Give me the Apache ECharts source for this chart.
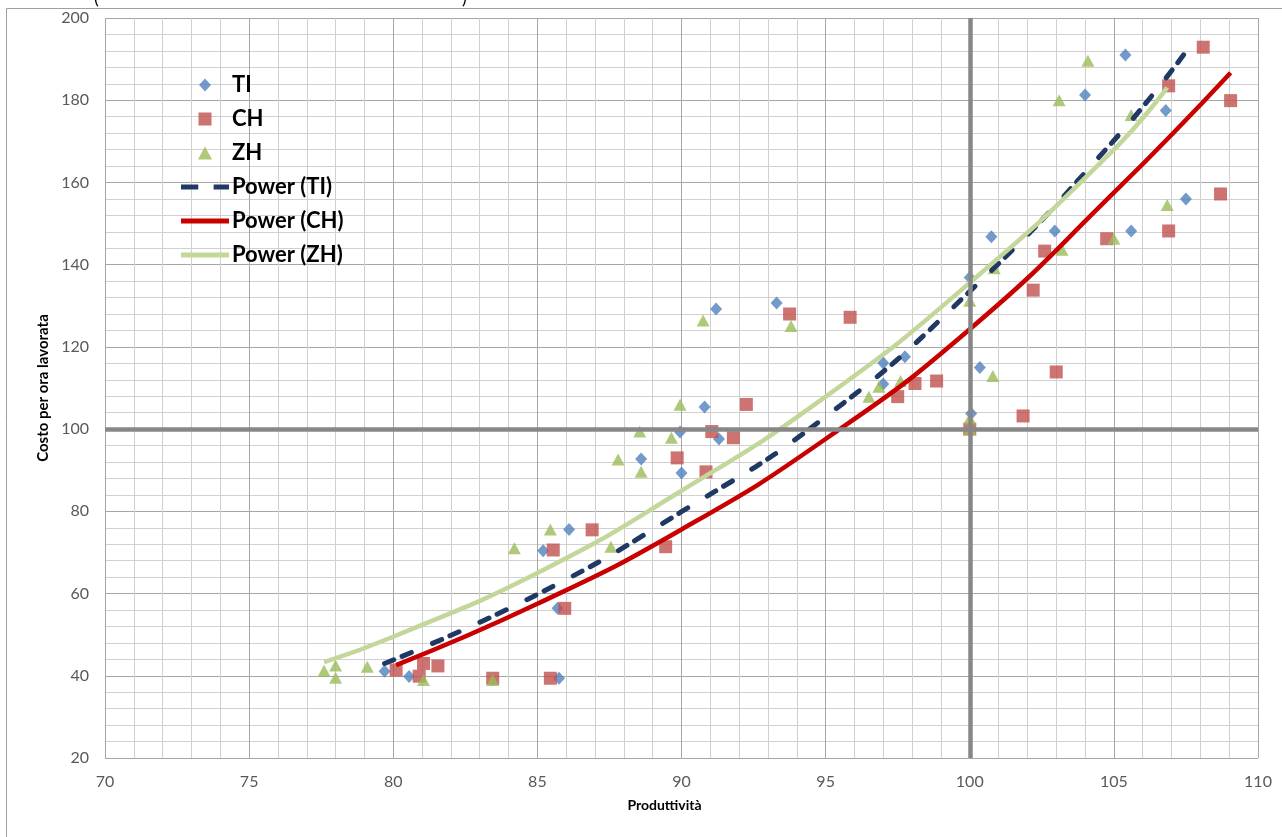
<!DOCTYPE html>
<html>
<head>
<meta charset="utf-8">
<title>Produttività e costo per ora lavorata</title>
<style>
  html, body { margin: 0; padding: 0; background: #fff; }
  #chart { width: 1282px; height: 837px; }
</style>
<script src="https://cdn.jsdelivr.net/npm/echarts@6/dist/echarts.min.js"></script>
</head>
<body>
<div id="chart"></div>
<script>
// Observations per canton: [produttività, costo per ora lavorata]
const tiPoints = [
  [79.7, 41.1], [80.55, 39.8], [85.2, 70.4], [85.7, 56.4], [85.75, 39.4],
  [86.1, 75.6], [88.6, 92.7], [89.95, 99.3], [90.0, 89.3], [90.8, 105.4],
  [91.3, 97.6], [91.2, 129.2], [93.3, 130.7], [97.0, 116.1], [97.0, 111.0],
  [97.75, 117.6], [100.0, 136.9], [100.05, 103.8], [100.35, 115.0], [100.75, 146.8],
  [102.95, 148.2], [104.0, 181.3], [105.4, 191.0], [105.6, 148.2], [106.8, 177.5],
  [107.5, 156.0]
];
const chPoints = [
  [80.1, 41.4], [80.9, 39.9], [81.05, 43.0], [81.55, 42.4], [83.45, 39.4],
  [85.45, 39.4], [85.55, 70.6], [85.95, 56.4], [86.9, 75.5], [89.45, 71.4],
  [89.85, 93.0], [90.85, 89.6], [91.05, 99.4], [91.8, 97.9], [92.25, 106.0],
  [93.75, 128.0], [95.85, 127.2], [97.5, 107.9], [98.1, 111.1], [98.85, 111.7],
  [100.0, 100.0], [101.85, 103.2], [102.2, 133.8], [102.6, 143.3], [103.0, 113.9],
  [104.75, 146.3], [106.9, 148.2], [106.9, 183.5], [108.7, 157.2], [108.1, 192.9],
  [109.05, 179.9]
];
const zhPoints = [
  [77.6, 41.2], [78.0, 42.5], [78.0, 39.5], [79.1, 42.2], [81.05, 39.0],
  [83.45, 39.0], [84.2, 71.0], [85.45, 75.6], [87.55, 71.4], [87.8, 92.6],
  [88.55, 99.4], [88.6, 89.6], [89.65, 97.9], [89.95, 105.9], [90.75, 126.4],
  [93.8, 125.1], [96.5, 107.9], [96.85, 110.3], [97.6, 111.7], [100.0, 100.0],
  [100.0, 102.6], [100.0, 131.2], [100.85, 139.1], [100.8, 112.9], [103.1, 180.0],
  [103.2, 143.6], [104.1, 189.6], [105.0, 146.3], [105.6, 176.4], [106.85, 154.5]
];

// Power trend lines, sampled along each curve
const tiTrend = [[79.7, 43.0], [85, 59.8], [90, 79.9], [95, 103.0], [100, 133.5], [105, 170.2], [107.5, 191.8]];
const chTrend = [[80.1, 42.6], [85, 57.5], [90, 75.6], [95, 97.6], [100, 124.3], [105, 157.5], [109.05, 186.7]];
const zhTrend = [[77.6, 43.3], [80, 49.5], [85, 65.0], [90, 85.0], [95, 107.9], [100, 135.6], [105, 168.0], [106.85, 183.1]];

// Reference lines where the axes cross
const crossX = 100;
const crossY = 100;

const FONT = 'Lato, "Open Sans", sans-serif';

// Legend glyphs (kept at their own aspect ratio inside the legend box)
const ICON_DIAMOND = 'path://M6,0L12,6.5L6,13L0,6.5Z';
const ICON_SQUARE = 'path://M0,0H12V12H0Z';
const ICON_TRIANGLE = 'path://M6.5,0L13,12H0Z';
const ICON_DASHED = 'path://M0,0H18V5H0Z M34,0H50V5H34Z';
const ICON_SOLID = 'path://M0,0H50V5H0Z';

const chart = echarts.init(document.getElementById('chart'), null, { renderer: 'canvas' });

chart.setOption({
  animation: false,
  backgroundColor: '#ffffff',
  grid: { left: 105, right: 24, top: 18, bottom: 79 },
  legend: {
    data: [
      { name: 'TI', icon: ICON_DIAMOND },
      { name: 'CH', icon: ICON_SQUARE },
      { name: 'ZH', icon: ICON_TRIANGLE },
      { name: 'Power (TI)', icon: ICON_DASHED },
      { name: 'Power (CH)', icon: ICON_SOLID },
      { name: 'Power (ZH)', icon: ICON_SOLID }
    ],
    orient: 'vertical',
    left: 181,
    top: 72,
    padding: 0,
    itemWidth: 48,
    itemHeight: 13,
    itemGap: 8,
    symbolKeepAspect: true,
    textStyle: { fontFamily: FONT, fontWeight: 'bold', fontSize: 22, lineHeight: 26, color: '#000', padding: [0, 0, 0, -2] },
    selectedMode: false
  },
  graphic: [
    {
      type: 'rect',
      silent: true,
      z: -10,
      shape: { x: 6.5, y: 8.5, width: 1300, height: 900 },
      style: { fill: 'none', stroke: '#a0a0a0', lineWidth: 1 }
    },
    {
      type: 'text',
      silent: true,
      style: { text: '(', x: 94, y: 7, font: '18px ' + FONT, fill: '#000', verticalAlign: 'bottom' }
    },
    {
      type: 'text',
      silent: true,
      style: { text: ')', x: 462, y: 7, font: '18px ' + FONT, fill: '#000', verticalAlign: 'bottom' }
    }
  ],
  xAxis: {
    type: 'value',
    min: 70,
    max: 110,
    interval: 5,
    name: 'Produttività',
    nameLocation: 'middle',
    nameGap: 40,
    nameTextStyle: { fontFamily: FONT, fontWeight: 'bold', fontSize: 14, color: '#000', padding: [0, 34, 0, 0] },
    axisLine: { show: false },
    axisTick: { show: false },
    axisLabel: { fontFamily: FONT, fontSize: 16, color: '#595959', margin: 16 },
    splitLine: { show: true, lineStyle: { color: '#a6a6a6', width: 1 } },
    minorTick: { show: false, splitNumber: 5 },
    minorSplitLine: { show: true, lineStyle: { color: '#d0d0d0', width: 1 } }
  },
  yAxis: {
    type: 'value',
    min: 20,
    max: 200,
    interval: 20,
    name: 'Costo per ora lavorata',
    nameLocation: 'middle',
    nameGap: 48,
    nameTextStyle: { fontFamily: FONT, fontWeight: 'bold', fontSize: 15, color: '#000', padding: [0, 0, 0, 0] },
    axisLine: { show: false },
    axisTick: { show: false },
    axisLabel: { fontFamily: FONT, fontSize: 16, color: '#595959', margin: 16 },
    splitLine: { show: true, lineStyle: { color: '#a6a6a6', width: 1 } },
    minorTick: { show: false, splitNumber: 5 },
    minorSplitLine: { show: true, lineStyle: { color: '#d0d0d0', width: 1 } }
  },
  series: [
    {
      name: 'axes',
      type: 'line',
      data: [],
      z: 1,
      silent: true,
      markLine: {
        silent: true,
        symbol: ['none', 'none'],
        label: { show: false },
        lineStyle: { color: '#878787', width: 4.5, type: 'solid' },
        emphasis: { disabled: true },
        data: [{ xAxis: crossX }, { yAxis: crossY }]
      }
    },
    {
      name: 'TI', type: 'scatter', data: tiPoints, z: 2,
      symbol: 'diamond', symbolSize: [12, 13],
      itemStyle: { color: '#4f81bd' }
    },
    {
      name: 'CH', type: 'scatter', data: chPoints, z: 2,
      symbol: 'rect', symbolSize: 13,
      itemStyle: { color: '#c0504d' }
    },
    {
      name: 'ZH', type: 'scatter', data: zhPoints, z: 2,
      symbol: 'triangle', symbolSize: [13, 12],
      itemStyle: { color: '#9bbb59' }
    },
    {
      name: 'Power (TI)', type: 'line', data: tiTrend, z: 3,
      smooth: 0.5, showSymbol: false, symbol: 'none',
      itemStyle: { color: '#1f3864' },
      lineStyle: { color: '#1f3864', width: 5, type: [10, 9, 10, 23], cap: 'round' }
    },
    {
      name: 'Power (CH)', type: 'line', data: chTrend, z: 3,
      smooth: 0.5, showSymbol: false, symbol: 'none',
      itemStyle: { color: '#c80000' },
      lineStyle: { color: '#c80000', width: 4.5, type: 'solid' }
    },
    {
      name: 'Power (ZH)', type: 'line', data: zhTrend, z: 3,
      smooth: 0.5, showSymbol: false, symbol: 'none',
      itemStyle: { color: '#c4d79b' },
      lineStyle: { color: '#c4d79b', width: 4.5, type: 'solid' }
    }
  ]
});
</script>
</body>
</html>
